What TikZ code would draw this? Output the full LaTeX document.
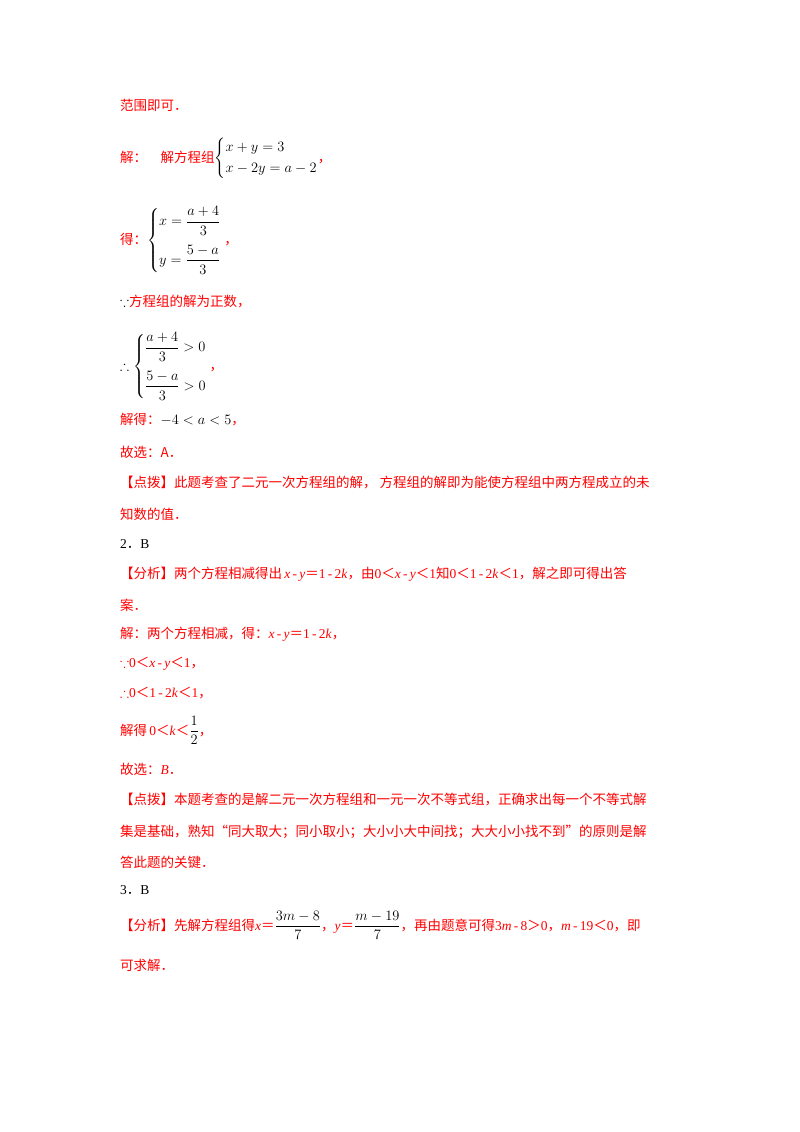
\documentclass[tikz,border=0pt]{standalone}
\usepackage{amsmath,amssymb}
\usepackage{fontspec}
\setmainfont{Liberation Serif}
\newfontfamily\cjk{Noto Sans CJK SC}
\newcommand\C[1]{{\cjk #1}}
\definecolor{rd}{RGB}{255,0,0}
\begin{document}
\begin{tikzpicture}[x=1pt,y=-1pt,
  t/.style={anchor=base west,inner sep=0,font=\fontsize{13.5}{16}\selectfont,text=rd}]
\useasboundingbox (0,0) rectangle (800,1132);
\node[t] (l1) at (120,110) {\C{范围即可．}};
\node[t] (l2) at (120,162) {\C{解：\quad 解方程组}\textcolor{black}{$\begin{cases}x+y=3\\[2pt]x-2y=a-2\end{cases}$}\hspace{-1em}\C{，}};
\node[t] (l3) at (120,244) {\C{得：}\textcolor{black}{$\begin{cases}x=\dfrac{a+4}{3}\\[14pt] y=\dfrac{5-a}{3}\end{cases}$}\hspace{-0.8em}\C{，}};
\node[t] (l4) at (120,306) {\textcolor{black}{$\because$}\C{方程组的解为正数，}};
\node[t] (l5) at (120,370) {\textcolor{black}{$\therefore\begin{cases}\dfrac{a+4}{3}>0\\[14pt]\dfrac{5-a}{3}>0\end{cases}$}\hspace{-0.8em}\C{，}};
\node[t] (l6) at (120,424) {\C{解得：}\textcolor{black}{$-4<a<5$}\C{，}};
\node[t] (l7) at (120,457) {\C{故选：A．}};
\node[t] (l8) at (120,487) {\C{【点拨】此题考查了二元一次方程组的解，\ 方程组的解即为能使方程组中两方程成立的未}};
\node[t] (l9) at (120,519) {\C{知数的值．}};
\node[t,text=black] (l10) at (120,548) {2\C{．}B};
\node[t] (l11) at (120,578) {\C{【分析】两个方程相减得出}\,\textit{x}\,-\,\textit{y}\C{＝}1\,-\,2\textit{k}\C{，由}0\C{＜}\textit{x}\,-\,\textit{y}\C{＜}1\C{知}0\C{＜}1\,-\,2\textit{k}\C{＜}1\C{，解之即可得出答}};
\node[t] (l12) at (120,610) {\C{案．}};
\node[t] (l13) at (120,638) {\C{解：两个方程相减，得：}\textit{x}\,-\,\textit{y}\C{＝}1\,-\,2\textit{k}\C{，}};
\node[t] (l14) at (120,667) {$\because$0\C{＜}\textit{x}\,-\,\textit{y}\C{＜}1\C{，}};
\node[t] (l15) at (120,697) {$\therefore$0\C{＜}1\,-\,2\textit{k}\C{＜}1\C{，}};
\node[t] (l16) at (120,735) {\C{解得}\,0\C{＜}\textit{k}\C{＜}\textcolor{black}{$\dfrac{1}{2}$}\C{，}};
\node[t] (l17) at (120,774) {\C{故选：}\textit{B}\C{．}};
\node[t] (l18) at (120,804) {\C{【点拨】本题考查的是解二元一次方程组和一元一次不等式组，正确求出每一个不等式解}};
\node[t] (l19) at (120,836) {\C{集是基础，熟知“同大取大；同小取小；大小小大中间找；大大小小找不到”的原则是解}};
\node[t] (l20) at (120,867) {\C{答此题的关键．}};
\node[t,text=black] (l21) at (120,894) {3\C{．}B};
\node[t] (l22) at (120,930) {\C{【分析】先解方程组得}\textit{x}\C{＝}\textcolor{black}{$\dfrac{3m-8}{7}$}\C{，}\textit{y}\C{＝}\textcolor{black}{$\dfrac{m-19}{7}$}\C{，再由题意可得}3\textit{m}\,-\,8\C{＞}0\C{，}\textit{m}\,-\,19\C{＜}0\C{，即}};
\node[t] (l23) at (120,970) {\C{可求解．}};
\end{tikzpicture}
\end{document}
